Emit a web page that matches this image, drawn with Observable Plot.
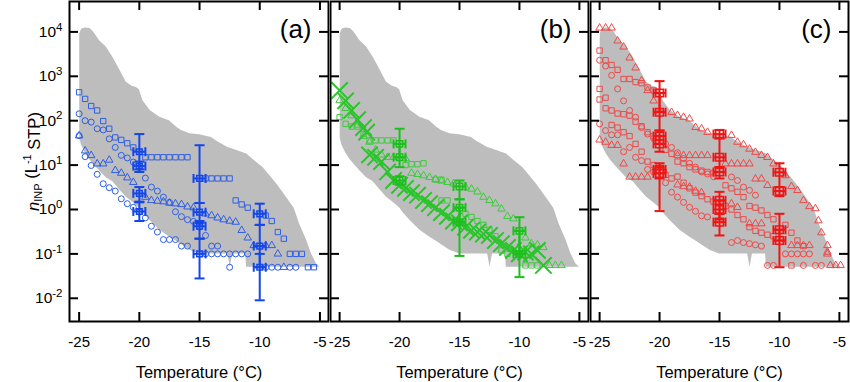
<!DOCTYPE html>
<html><head><meta charset="utf-8">
<script src="https://cdn.jsdelivr.net/npm/d3@7"></script>
<script src="https://cdn.jsdelivr.net/npm/@observablehq/plot@0.6"></script>
<style>
body{margin:0;background:#fff;}
#row{display:flex;width:850px;height:382px;overflow:hidden;}
#row svg{display:block;flex:none;}
</style></head><body><div id="row"></div>
<script>
// ---------- axis ticks ----------
const xTicks = [-25, -20, -15, -10, -5];
const yTicks = [1e4, 1e3, 1e2, 1e1, 1, 1e-1, 1e-2];
const panelLabels = ["(a)", "(b)", "(c)"];
const xTitle = "Temperature (°C)";

// ---------- grey envelope (same in all panels) ----------
const envT  = [-24.95,-24.8,-24.5,-24.1,-23.8,-23.3,-22.75,-22.2,-21.6,-21.1,-20.6,-20.25,-20.0,-19.7,-19.1,-18.3,-17.5,-16.9,-16.5,-15.8,-15.0,-14.0,-13.6,-12.65,-12.45,-12.25,-11.15,-11.1,-10.5,-9.75,-9.2,-8.6,-7.8,-7.13,-6.7,-6.1,-5.7,-5.3,-5.0];
const envLo = [40,28,19,13,10.5,7.4,5.2,4.2,2.7,1.9,1.5,1.25,1.1,0.85,0.56,0.34,0.24,0.19,0.16,0.12,0.10,0.10,0.10,0.10,0.05,0.10,0.10,0.05,0.05,0.05,0.05,0.05,0.05,0.05,0.05,0.05,0.05,0.05,0.05];
const envHi = [8900,11500,12300,12000,10000,6300,4600,2700,1350,740,600,560,500,280,170,120,100,71,60,51,48,42,35,25,24,23,18,18,13,8.9,6,3.8,1.9,1.05,0.48,0.2,0.1,0.06,0.05];

// ---------- panel (a), blue ----------
const aSquares1 = [[-25,437],[-24.5,310],[-24,214],[-23.5,170],[-23,98],[-22.5,66],[-22,42],[-21.5,37],[-21,31],[-20.5,25],[-19.5,15],[-19,15],[-18.5,15],[-18,15],[-17.5,15],[-17,15],[-16.5,15],[-16,15]];
const aSquares2 = [[-14.5,5],[-14,5],[-13.5,5],[-13,5],[-12.5,5]];
const aSquares3 = [[-12,1.6],[-11.5,1.3],[-11,1.1],[-9.5,0.73],[-9,0.55],[-8.5,0.31],[-8,0.22],[-7.5,0.1],[-7,0.1],[-6.5,0.1],[-6,0.05],[-5.5,0.05]];
const aCircles1 = [[-25,143],[-24.5,100],[-24,93],[-23.5,66],[-23,62],[-22.5,39],[-22,25],[-21.5,16.6],[-21,14.5],[-20.5,11.7],[-20,8.9],[-19.5,5.1],[-19,3.2],[-18.5,2.6],[-18,1.9],[-17.5,1.45],[-17,0.89],[-16.5,0.69],[-16,0.59],[-15.5,0.54],[-15,0.4],[-14.5,0.26],[-14,0.15],[-13.5,0.15],[-12.5,0.05]];
const aCircles2 = [[-25,46],[-24.5,15.5],[-24,9.8],[-23.5,6.2],[-23,3.8],[-22.5,3.1],[-22,2.6],[-21.5,1.74],[-21,1.35],[-20.5,1.12],[-20,0.87],[-19.5,0.65],[-19,0.42],[-18.5,0.31],[-18,0.21],[-17.5,0.21],[-17,0.21],[-16.5,0.15],[-16,0.15],[-14.5,0.1],[-14,0.1],[-13.5,0.1],[-13,0.1],[-12.5,0.1],[-12,0.1],[-11.5,0.1],[-11,0.1],[-9.5,0.05],[-9,0.05],[-8.5,0.05],[-7.5,0.05],[-7,0.05]];
const aTriangles = [[-25,46],[-24.5,21],[-24,16.5],[-23.5,10.7],[-23,10.7],[-22.5,13],[-22,7.6],[-21.5,6.6],[-21,5.2],[-20.5,4.1],[-19.5,1.9],[-19,1.6],[-18.5,1.55],[-18,1.5],[-17.5,1.4],[-17,1.35],[-16.5,1.3],[-16,1.15],[-15.5,1.1],[-14.5,0.8],[-14,0.73],[-13.5,0.65],[-13,0.59],[-12.5,0.55],[-12,0.52],[-11.5,0.34],[-11,0.23],[-10.5,0.155],[-9.5,0.155],[-9,0.155],[-8.5,0.1],[-8,0.05]];
// [T, value, low, high, T low, T high]
const aErrors = [[-20,20,8,50,-20.5,-19.5],[-20,9.5,7,12,-20.5,-19.5],[-20,2.3,1.5,3.2,-20.5,-19.5],[-20,0.9,0.55,1.45,-20.5,-19.5],
  [-15,5,1.4,28,-15.5,-14.5],[-15,0.87,0.5,1.4,-15.5,-14.5],[-15,0.42,0.22,0.55,-15.5,-14.5],[-15,0.1,0.028,0.22,-15.5,-14.5],
  [-10,0.8,0.45,1.35,-10.5,-9.5],[-10,0.15,0.05,0.45,-10.5,-9.5],[-10,0.05,0.009,0.1,-10.5,-9.5]];

// ---------- panel (b), green ----------
const bCrosses1 = [[-25,480],[-24.5,280],[-24,170],[-23.5,105],[-23,70],[-22.75,55]];
const bCrosses2 = [[-22.5,17],[-22,15],[-21.5,12],[-21,7],[-20.5,4.5],[-20,3.5],[-19.5,3.0],[-19,2.4],[-18.5,2.1],[-18,1.6],[-17.5,1.35],[-17,1.1],[-16.5,0.85],[-16,0.7],[-15.5,0.55],[-15,0.5],[-14.5,0.4],[-14,0.34],[-13.5,0.31],[-13,0.28],[-12.5,0.26],[-12,0.2],[-11.5,0.17],[-11,0.14],[-10.5,0.12],[-10,0.1],[-9.5,0.11],[-9,0.1],[-8.5,0.12],[-8,0.055]];
const bTriangles = [[-25,285],[-24.5,190],[-24,130],[-23.5,80],[-23,45],[-22.5,33],[-22,22],[-21.5,17],[-21,15],[-20.5,15],[-19.5,14],[-19,6.6],[-18.5,6.2],[-18,5.8],[-17.5,5.3],[-17,4.8],[-16.5,4.4],[-16,4.1],[-15.5,3.8],[-14.5,3.2],[-14,2.9],[-13.5,2.5],[-13,1.9],[-12.5,1.6],[-12,1.35],[-11.5,1.03],[-11,0.7],[-10.5,0.62],[-9.5,0.23],[-9,0.17],[-8.5,0.16],[-8,0.14],[-7.5,0.055],[-7,0.055],[-6.5,0.055]];
const bSquares1 = [[-25,120],[-24.5,85],[-24,74],[-23.5,74],[-23,50],[-22.5,36],[-22,36],[-21.5,36],[-21,36],[-20.5,36],[-19.5,10],[-19,10.5],[-18.5,10.5],[-18,11],[-17,4.7],[-16.5,4.7]];
const bSquares2 = [[-16.5,1.6],[-16,1.6],[-14.5,0.8],[-14,0.68],[-13.5,0.55],[-13,0.45],[-12.5,0.35],[-12,0.25],[-11.5,0.12],[-11,0.1],[-9.5,0.055],[-9,0.055],[-8.5,0.055]];
const bErrors = [[-20,30,15,66,-20.5,-19.5],[-20,15,9,30,-20.5,-19.5],[-20,4.5,3.6,5.6,-20.5,-19.5],
  [-15,3.3,1.7,4.5,-15.5,-14.5],[-15,1.1,0.52,1.7,-15.5,-14.5],[-15,0.52,0.09,1.1,-15.5,-14.5],
  [-10,0.33,0.1,0.67,-10.5,-9.5],[-10,0.1,0.03,0.33,-10.5,-9.5]];

// ---------- panel (c), red ----------
const cTriangles1 = [[-25,12300],[-24.5,12300],[-24,12300],[-23.5,6300],[-23,4600],[-22.5,2600],[-22,1550],[-21.5,800],[-21,480],[-20.5,280],[-19,155],[-18.5,132],[-18,120],[-17.5,110],[-17,71],[-16.5,66],[-16,55],[-14,47],[-13.5,33],[-13,29],[-12.5,23],[-12,19.5],[-11.5,16.6],[-11,15],[-10.5,10.7],[-9.5,5.8],[-9,3.3],[-8.5,2.7],[-8,1.6],[-7.5,1.17],[-7,1.05],[-6.75,0.56],[-6.5,0.3],[-6,0.155],[-6,0.11],[-5.75,0.055],[-5.3,0.055],[-4.9,0.055]];
const cTriangles2 = [[-25,37],[-24.5,33],[-24,28],[-23.5,28],[-23,10.7],[-22.5,5.4],[-22,5.4],[-21.5,5.4],[-21,5.4],[-18.5,16.5],[-18,16.5],[-17.5,16.5],[-17,16.5],[-16.5,16.5],[-16,16.5],[-14.5,10.7],[-14,10.7],[-13.5,10.7],[-13,10.7],[-12.5,10.7],[-12,4.9],[-11.5,4.9],[-11,3.5]];
const cTriangles3 = [[-18.5,3.6],[-18,3.3],[-17.5,3.2],[-17,2.6],[-16.5,2.4],[-14,1.35],[-13.5,1.12],[-12.5,0.48],[-12,0.48],[-11.5,0.48],[-9,0.155],[-8.5,0.155],[-8,0.155],[-7.5,0.155],[-6,0.1]];
const cSquares1 = [[-25,3800],[-24.5,2300],[-24,1800],[-23.5,1400],[-23,870],[-22.5,870],[-22,740],[-21.5,700],[-21,560],[-20.5,480]];
const cSquares2 = [[-25,520],[-24.5,330],[-24,170],[-23.5,145],[-23,140],[-22.5,130],[-22,95],[-21.5,75],[-21,55],[-20.5,45],[-19.5,22],[-19,18],[-18.5,12],[-18,11],[-17.5,9],[-17,8],[-16.5,7.5],[-16,7],[-15.5,6.5]];
const cSquares3 = [[-25,300],[-24.5,190],[-24,80],[-23.5,70],[-23,55],[-22.5,45],[-22,30],[-21.5,20],[-21,12],[-20.5,10],[-19.5,6],[-19,5],[-18.5,5.5],[-18,4],[-17.5,3],[-17,2.4],[-16.5,2],[-16,1.7],[-15.5,1.5],[-14.5,1.2],[-14,1.0],[-13.5,0.75],[-13,0.6],[-12.5,0.4],[-12,0.33],[-11.5,0.3],[-11,0.27],[-10.5,0.25]];
const cSquares4 = [[-14.5,3.5],[-14,3.0],[-13.5,2.5],[-13,1.9],[-12.5,1.2],[-12,1.1],[-11.5,0.95],[-11,0.75],[-10.5,0.6],[-9.5,0.45],[-9,0.3],[-8.5,0.2],[-8,0.15],[-9,0.055]];
const cCircles1 = [[-25,2300],[-24.5,1700],[-24,1050],[-23.5,520],[-23,280],[-22.5,170],[-22,120],[-21.5,70],[-21,50],[-20.5,40],[-19.5,30],[-19,25],[-18.5,19],[-18,14],[-17.5,11],[-17,9],[-16.5,7],[-16,6.3],[-15.5,5.5],[-14,5.4],[-13.5,4.5],[-13,3.2],[-12.5,2.7],[-12,2.1]];
const cCircles2 = [[-25,85],[-24.5,60],[-24,48],[-23.5,48],[-23,20],[-22.5,25],[-22,15],[-21.5,12.6],[-21,8],[-20.5,7],[-19.5,4],[-19,2.45],[-18.5,1.9],[-18,1.45],[-17.5,1.12],[-17,0.91],[-16.5,0.72],[-16,0.68],[-14,0.18],[-13.5,0.2],[-13,0.18],[-12.5,0.17],[-12,0.16],[-11.5,0.15],[-11,0.055],[-10.5,0.055]];
const cCircles3 = [[-9.5,0.1],[-9,0.1],[-8.5,0.1],[-8,0.1],[-7.5,0.1],[-8,0.055],[-7,0.055],[-6.5,0.055]];
const cErrors = [[-20,420,160,780,-20.5,-19.5],[-20,155,60,420,-20.5,-19.5],[-20,45,30,60,-20.5,-19.5],[-20,30,20,45,-20.5,-19.5],[-20,8,5,11,-20.5,-19.5],[-20,6.5,0.92,9,-20.5,-19.5],
  [-15,50,40,62,-15.5,-14.5],[-15,15,9,40,-15.5,-14.5],[-15,7,5,9,-15.5,-14.5],[-15,1.6,0.8,2.5,-15.5,-14.5],[-15,1.0,0.6,1.6,-15.5,-14.5],[-15,0.52,0.26,0.8,-15.5,-14.5],
  [-10,6.9,3.2,11,-10.5,-9.5],[-10,2.6,2.0,3.2,-10.5,-9.5],[-10,0.35,0.2,0.8,-10.5,-9.5],[-10,0.2,0.05,0.35,-10.5,-9.5]];

// ---------- build ----------
const envelope = envT.map((T, i) => ({T, lo: envLo[i], hi: envHi[i]}));
const capH = {draw(ctx, size) { const r = Math.sqrt(size / Math.PI); ctx.moveTo(-r, 0); ctx.lineTo(r, 0); }};
const capV = {draw(ctx, size) { const r = Math.sqrt(size / Math.PI); ctx.moveTo(0, -r); ctx.lineTo(0, r); }};
const FONT = "'Liberation Sans', Arial, Helvetica, sans-serif";
const Y_TITLE = "nINP (L-1 STP)";

function seriesMark(data, symbol, color, r, sw) {
  return Plot.dot(data, {x: d => d[0], y: d => d[1], symbol, r, stroke: color, strokeWidth: sw, fill: "none"});
}
function errorMarks(rows, color, boxR) {
  const P = rows.map(([T, v, lo, hi, xlo, xhi]) => ({T, v, lo, hi, xlo, xhi}));
  return [
    Plot.ruleX(P, {x: "T", y1: "lo", y2: "hi", stroke: color, strokeWidth: 2}),
    Plot.ruleY(P, {y: "v", x1: "xlo", x2: "xhi", stroke: color, strokeWidth: 2}),
    Plot.dot(P, {x: "T", y: "lo", symbol: capH, r: 5, stroke: color, strokeWidth: 2, fill: "none"}),
    Plot.dot(P, {x: "T", y: "hi", symbol: capH, r: 5, stroke: color, strokeWidth: 2, fill: "none"}),
    Plot.dot(P, {x: "xlo", y: "v", symbol: capV, r: 4.5, stroke: color, strokeWidth: 2, fill: "none"}),
    Plot.dot(P, {x: "xhi", y: "v", symbol: capV, r: 4.5, stroke: color, strokeWidth: 2, fill: "none"}),
    Plot.dot(P, {x: "T", y: "v", symbol: "square", r: boxR, stroke: color, strokeWidth: 1.5, fill: "none"})
  ];
}

function makePanel({width, marginLeft, marginRight, xDomain, label, series, errors, errColor, boxR, showY}) {
  const H = 382, mt = 1, mb = 61, tick = 9;
  const innerW = width - marginLeft - marginRight, innerH = H - mt - mb;
  const marks = [
    Plot.areaY(envelope, {x: "T", y1: "lo", y2: "hi", fill: "#bdbdbd", curve: "linear"}),
    ...series,
    ...errorMarks(errors, errColor, boxR),
    Plot.frame({stroke: "#000", strokeWidth: 2}),
    Plot.tickY(yTicks, {y: d => d, insetRight: innerW - tick, stroke: "#000", strokeWidth: 2}),
    Plot.tickY(yTicks, {y: d => d, insetLeft: innerW - tick, stroke: "#000", strokeWidth: 2}),
    Plot.tickX(xTicks, {x: d => d, insetTop: innerH - tick, stroke: "#000", strokeWidth: 2}),
    Plot.tickX(xTicks, {x: d => d, insetBottom: innerH - tick, stroke: "#000", strokeWidth: 2}),
    Plot.axisX({ticks: xTicks, tickSize: 0, tickPadding: 15, fontSize: 15, tickFormat: d => String(d), label: null}),
    Plot.text([label], {frameAnchor: "top-right", dx: -17, dy: 18, fontSize: 26, fill: "#000"}),
    Plot.text([xTitle], {frameAnchor: "bottom", lineAnchor: "middle", dy: 51, fontSize: 16.5, fill: "#000"})
  ];
  if (showY) {
    marks.push(Plot.axisY({ticks: yTicks, tickSize: 0, tickPadding: 7, fontSize: 15.5,
      tickFormat: d => "10^" + Math.round(Math.log10(d)), label: null}));
    marks.push(Plot.text([Y_TITLE], {frameAnchor: "left", textAnchor: "middle", lineAnchor: "middle", dx: -36, rotate: -90, fontSize: 16.5, fill: "#000"}));
  }
  return Plot.plot({
    width, height: H, marginLeft, marginRight, marginTop: mt, marginBottom: mb,
    style: {fontFamily: FONT, background: "#fff", color: "#000"},
    x: {domain: xDomain, axis: null},
    y: {type: "log", domain: [0.003, 48400], axis: null},
    marks
  });
}

const blue = "#2f5fe6", blueBar = "#1446e8";
const green = "#3dcc3d", greenX = "#2cc42c", greenBar = "#1dbf1d";
const red = "#f04848", redBar = "#f01414";

const svgA = makePanel({width: 329, marginLeft: 69, marginRight: 1, xDomain: [-25.8, -4.29], label: panelLabels[0], showY: true,
  series: [
    seriesMark(aSquares1, "square", blue, 3, 1), seriesMark(aSquares2, "square", blue, 3, 1), seriesMark(aSquares3, "square", blue, 3, 1),
    seriesMark(aCircles1, "circle", blue, 3, 1), seriesMark(aCircles2, "circle", blue, 3, 1),
    seriesMark(aTriangles, "triangle", blue, 2.8, 1)
  ], errors: aErrors, errColor: blueBar, boxR: 3.2});
const svgB = makePanel({width: 260, marginLeft: 1, marginRight: 1, xDomain: [-25.76, -4.24], label: panelLabels[1], showY: false,
  series: [
    seriesMark(bSquares1, "square", green, 3, 1), seriesMark(bSquares2, "square", green, 3, 1),
    seriesMark(bTriangles, "triangle", green, 2.8, 1),
    seriesMark(bCrosses1, "times", greenX, 7.5, 2), seriesMark(bCrosses2, "times", greenX, 7.5, 2)
  ], errors: bErrors, errColor: greenBar, boxR: 3.6});
const svgC = makePanel({width: 261, marginLeft: 1, marginRight: 2, xDomain: [-25.76, -4.24], label: panelLabels[2], showY: false,
  series: [
    seriesMark(cTriangles1, "triangle", red, 2.8, 1), seriesMark(cTriangles2, "triangle", red, 2.8, 1), seriesMark(cTriangles3, "triangle", red, 2.8, 1),
    seriesMark(cSquares1, "square", red, 3, 1), seriesMark(cSquares2, "square", red, 3, 1), seriesMark(cSquares3, "square", red, 3, 1), seriesMark(cSquares4, "square", red, 3, 1),
    seriesMark(cCircles1, "circle", red, 3, 1), seriesMark(cCircles2, "circle", red, 3, 1), seriesMark(cCircles3, "circle", red, 3, 1)
  ], errors: cErrors, errColor: redBar, boxR: 4.3});

const row = document.getElementById("row");
[svgA, svgB, svgC].forEach(s => row.appendChild(s));

const NS = "http://www.w3.org/2000/svg";
function tspan(txt, attrs) {
  const ts = document.createElementNS(NS, "tspan");
  ts.textContent = txt;
  for (const k in attrs) ts.setAttribute(k, attrs[k]);
  return ts;
}
svgA.querySelectorAll("text").forEach(t => {
  const s = t.textContent;
  if (/^10\^/.test(s)) {
    // superscript exponent on the y tick labels
    const exp = s.split("^")[1];
    t.textContent = "";
    t.append(tspan("10", {}), tspan(exp, {"font-size": "11.5", "dy": "-0.55em"}));
  } else if (s === Y_TITLE) {
    // italic n, subscript INP, superscript -1
    t.textContent = "";
    t.setAttribute("text-anchor", "middle");
    t.append(
      tspan("n", {"font-style": "italic"}),
      tspan("INP", {"font-size": "11", "dy": "0.3em"}),
      tspan(" (L", {"dy": "-0.3em"}),
      tspan("-1", {"font-size": "11", "dy": "-0.55em"}),
      tspan(" STP)", {"dy": "0.55em"})
    );
  }
});
</script>
</body></html>
